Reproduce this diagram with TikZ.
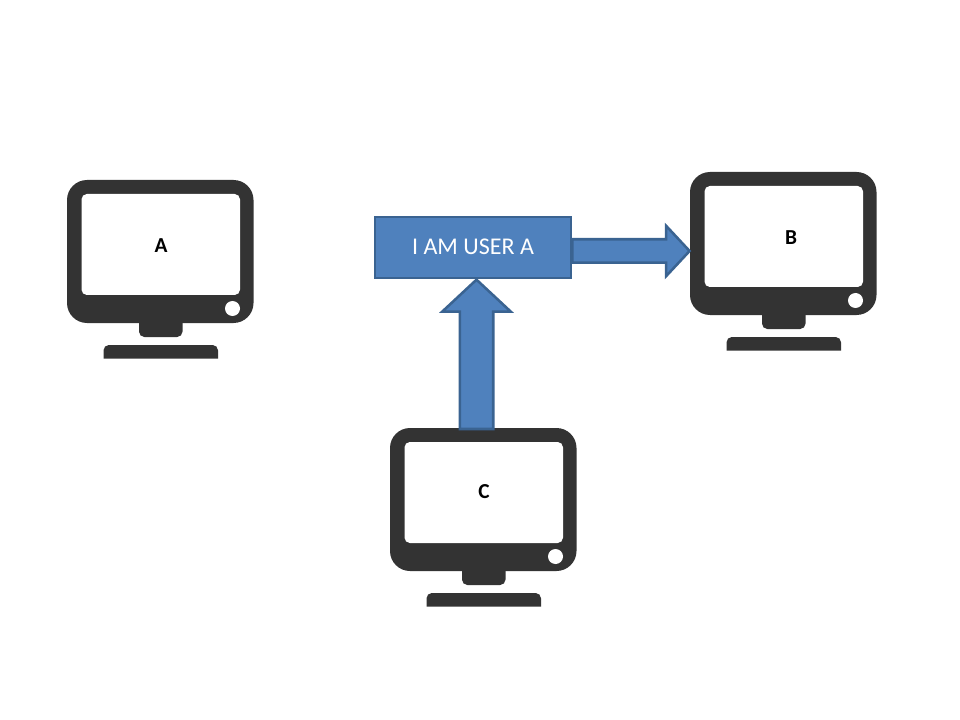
\documentclass[tikz,border=0pt]{standalone}
\usepackage{fontspec}
\setmainfont{Carlito}
\usetikzlibrary{shapes.arrows}

\definecolor{monitorgray}{HTML}{333333}
\definecolor{blockfill}{HTML}{4F81BD}
\definecolor{blockline}{HTML}{3A6391}

\tikzset{
  monitor/.pic={
    \fill[monitorgray,rounded corners=15pt] (0,0) rectangle (186.5,143);
    \fill[white,rounded corners=4pt] (14.5,14) rectangle (173,115);
    \fill[white] (165.5,128.5) circle (7.5);
    \fill[monitorgray] (72,140) -- (72,151) [rounded corners=4pt] -- (72,157) -- (115.5,157) [sharp corners] -- (115.5,140) -- cycle;
    \fill[monitorgray] (36.5,178.5) [rounded corners=4pt] -- (36.5,165) -- (151,165) [sharp corners] -- (151,178.5) -- cycle;
  },
  userbox/.style={draw=blockline,fill=blockfill,line width=1.9pt,text=white,font=\fontsize{18}{20}\selectfont,
    minimum width=147pt,minimum height=45.75pt,inner sep=0pt},
  blockarrow/.style={single arrow,draw=blockline,fill=blockfill,line width=1.9pt,inner xsep=0pt,outer sep=0pt,
    single arrow tip angle=94,single arrow head indent=0pt},
  monitorlabel/.style={font=\fontsize{16}{18}\selectfont\bfseries,text=black,inner sep=0pt}
}

\begin{document}
\begin{tikzpicture}[x=0.75pt,y=-0.75pt]
\useasboundingbox (0,0) rectangle (960,720);
% monitors
\pic at (67,180) {monitor};
\pic at (690,172) {monitor};
\pic at (390,428) {monitor};
\node[monitorlabel] (labelA) at (161,245.5) {A};
\node[monitorlabel] (labelB) at (791,237.5) {B};
\node[monitorlabel] (labelC) at (484,491.5) {C};
% message
\node[userbox] (msg) at (473,247.5) {\raisebox{1pt}{I AM USER A}};
\coordinate (tailB) at (msg.east |- 0,251);
\coordinate (tailC) at (476.5,429);
\node[blockarrow,anchor=tail,minimum height=88pt,inner ysep=7.85pt,single arrow head extend=10.1pt] (toB) at (tailB) {};
\node[blockarrow,anchor=tail,rotate=90,minimum height=112pt,inner ysep=11.6pt,single arrow head extend=13.15pt] (fromC) at (tailC) {};
\end{tikzpicture}
\end{document}
